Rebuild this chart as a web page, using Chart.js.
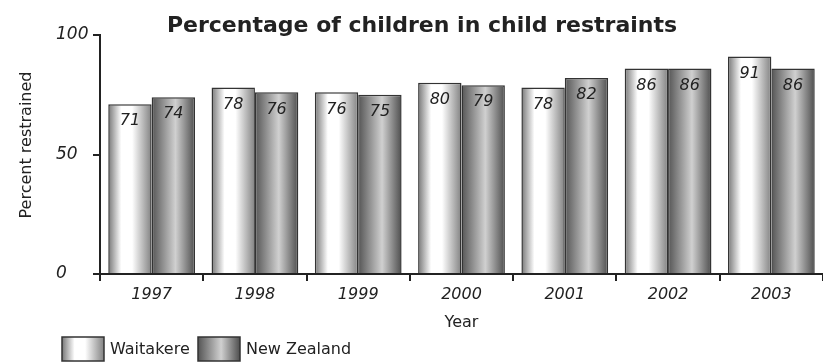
<!DOCTYPE html>
<html>
<head>
<meta charset="utf-8">
<script src="https://cdn.jsdelivr.net/npm/chart.js@4.4.1/dist/chart.umd.min.js"></script>
<style>
  html, body { margin: 0; padding: 0; background: #fff; }
  #wrap { width: 823px; height: 362px; }
</style>
</head>
<body>
<div id="wrap"><canvas id="restraintChart"></canvas></div>
<script>
  const years = ["1997", "1998", "1999", "2000", "2001", "2002", "2003"];
  const waitakere = [71, 78, 76, 80, 78, 86, 91];
  const newZealand = [74, 76, 75, 79, 82, 86, 86];
  const yTicks = [0, 50, 100];
  const seriesNames = ["Waitakere", "New Zealand"];

  const FONT = "DejaVu Sans";
  const INK = "#222";
  const CAT_PCT = 0.84;

  // cylinder-like shading, one set of stops per series
  const shades = [
    [[0, "#777777"], [0.3, "#ffffff"], [0.55, "#ffffff"], [1, "#828282"]],
    [[0, "#555555"], [0.55, "#d0d0d0"], [1, "#4e4e4e"]]
  ];

  function makeGradient(c, left, width, series) {
    const g = c.createLinearGradient(left, 0, left + width, 0);
    shades[series].forEach(s => g.addColorStop(s[0], s[1]));
    return g;
  }

  function barFill(ctx) {
    const chart = ctx.chart;
    const x = chart.scales.x;
    if (!x || !chart.chartArea) return "#bbb";
    const catW = x.width / years.length;
    const half = catW * CAT_PCT / 2;
    const center = x.getPixelForValue(ctx.dataIndex);
    const left = ctx.datasetIndex === 0 ? center - half : center;
    return makeGradient(chart.ctx, left, half, ctx.datasetIndex);
  }

  const decor = {
    id: "decor",
    afterDatasetsDraw(chart) {
      const c = chart.ctx;
      c.save();
      c.fillStyle = INK;
      c.font = "italic 16px '" + FONT + "'";
      c.textAlign = "center";
      c.textBaseline = "middle";
      chart.data.datasets.forEach((ds, i) => {
        chart.getDatasetMeta(i).data.forEach((bar, j) => {
          c.fillText(String(ds.data[j]), bar.x, bar.y + 17);
        });
      });
      c.restore();
    },
    afterDraw(chart) {
      const c = chart.ctx;
      c.save();
      c.fillStyle = INK;

      // title
      c.font = "bold 22px '" + FONT + "'";
      c.textAlign = "center";
      c.textBaseline = "alphabetic";
      c.fillText("Percentage of children in child restraints", 422, 32);

      // y axis title
      c.font = "16px '" + FONT + "'";
      c.translate(27, 145);
      c.rotate(-Math.PI / 2);
      c.textBaseline = "middle";
      c.fillText("Percent restrained", 0, 0);
      c.setTransform(1, 0, 0, 1, 0, 0);

      // legend
      const boxes = [62, 198];
      c.textAlign = "left";
      c.font = "16px '" + FONT + "'";
      boxes.forEach((bx, i) => {
        c.fillStyle = makeGradient(c, bx, 42, i);
        c.fillRect(bx, 337, 42, 24);
        c.strokeStyle = "#333";
        c.lineWidth = 1.5;
        c.strokeRect(bx, 337, 42, 24);
        c.fillStyle = INK;
        c.fillText(seriesNames[i], bx + 48, 350);
      });
      c.restore();
    }
  };

  new Chart(document.getElementById("restraintChart"), {
    type: "bar",
    data: {
      labels: years,
      datasets: [
        {
          label: seriesNames[0],
          data: waitakere,
          backgroundColor: barFill,
          borderColor: "#333",
          borderWidth: 1.5,
          borderSkipped: "bottom"
        },
        {
          label: seriesNames[1],
          data: newZealand,
          backgroundColor: barFill,
          borderColor: "#333",
          borderWidth: 1.5,
          borderSkipped: "bottom"
        }
      ]
    },
    options: {
      responsive: true,
      maintainAspectRatio: false,
      animation: false,
      datasets: {
        bar: { categoryPercentage: CAT_PCT, barPercentage: 1 }
      },
      layout: { padding: { top: 35, left: 56, right: -6, bottom: 0 } },
      plugins: {
        legend: { display: false },
        title: { display: false },
        tooltip: { enabled: false }
      },
      scales: {
        x: {
          afterFit: s => { s.height = 88; s.paddingRight = -6; },
          grid: { drawOnChartArea: false, tickLength: 7, lineWidth: 2, color: INK },
          border: { color: INK, width: 2 },
          ticks: { color: INK, padding: 4, font: { family: FONT, size: 16, style: "italic" } },
          title: {
            display: true,
            text: "Year",
            color: INK,
            font: { family: FONT, size: 16 },
            padding: { top: 0, bottom: 30 }
          }
        },
        y: {
          min: 0,
          max: 100,
          afterFit: s => { s.width = 44; s.paddingRight = -6; },
          afterBuildTicks: s => { s.ticks = yTicks.map(v => ({ value: v })); },
          grid: { drawOnChartArea: false, tickLength: 7, lineWidth: 2, color: INK },
          border: { color: INK, width: 2 },
          ticks: {
            color: INK,
            crossAlign: "far",
            font: { family: FONT, size: 17, style: "italic" }
          }
        }
      }
    },
    plugins: [decor]
  });
</script>
</body>
</html>
